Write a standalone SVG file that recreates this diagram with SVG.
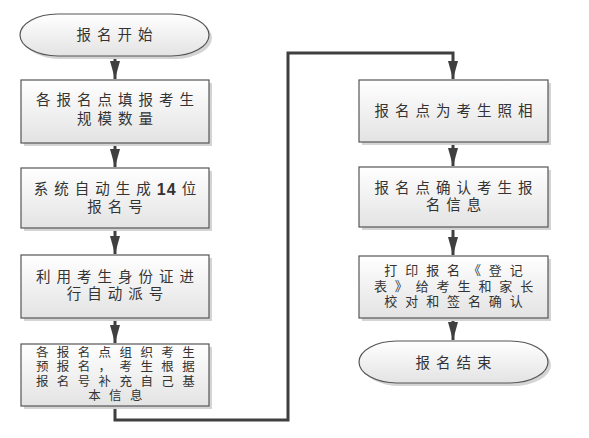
<svg xmlns="http://www.w3.org/2000/svg" width="589" height="438" viewBox="0 0 589 438">
<style>
.box{fill:url(#g);stroke:#555;stroke-width:1.2}
.sh{fill:#d4d4d4}
.t{font-family:"Liberation Sans","Noto Sans CJK SC",sans-serif;font-size:14.5px;fill:#333;text-anchor:middle;dominant-baseline:central;letter-spacing:6px}
.m{font-size:13px;letter-spacing:7.9px}
.s{font-size:12.5px;letter-spacing:8.4px}
.c{fill:none;stroke:#3f3f3f;stroke-width:3}
</style>
<defs>
<linearGradient id="g" x1="0" y1="0" x2="0" y2="1">
<stop offset="0" stop-color="#ffffff"/>
<stop offset="1" stop-color="#e3e3e3"/>
</linearGradient>
<marker id="a" viewBox="0 0 18 10" refX="18" refY="5" markerWidth="18" markerHeight="10" markerUnits="userSpaceOnUse" orient="auto">
<path d="M0,0 L18,5 L0,10 Z" fill="#3f3f3f"/>
</marker>
</defs>
<g id="connectors">
<line class="c" x1="115" y1="57" x2="115" y2="79" marker-end="url(#a)"/>
<line class="c" x1="115" y1="144" x2="115" y2="167" marker-end="url(#a)"/>
<line class="c" x1="115" y1="229" x2="115" y2="254" marker-end="url(#a)"/>
<line class="c" x1="115" y1="319" x2="115" y2="343" marker-end="url(#a)"/>
<polyline class="c" points="115,407 115,420 288,420 288,53 453,53 453,79" marker-end="url(#a)"/>
<line class="c" x1="453" y1="143" x2="453" y2="166" marker-end="url(#a)"/>
<line class="c" x1="453" y1="228" x2="453" y2="255" marker-end="url(#a)"/>
<line class="c" x1="453" y1="319" x2="453" y2="340" marker-end="url(#a)"/>
</g>
<g id="start">
<rect class="sh" x="23" y="17" width="189" height="42" rx="38" ry="21"/>
<rect class="box" x="20" y="14" width="189" height="42" rx="38" ry="21"/>
<text class="t" x="117.5" y="35">报名开始</text>
</g>
<g id="n1">
<rect class="sh" x="24" y="83" width="188" height="63"/>
<rect class="box" x="21" y="80" width="188" height="63"/>
<text class="t" x="118" y="100">各报名点填报考生</text>
<text class="t" x="118" y="119">规模数量</text>
</g>
<g id="n2">
<rect class="sh" x="24" y="171" width="188" height="60"/>
<rect class="box" x="21" y="168" width="188" height="60"/>
<text class="t" x="118" y="189">系统自动生成<tspan font-weight="bold" font-size="16px" letter-spacing="1px">1</tspan><tspan font-weight="bold" font-size="16px">4</tspan>位</text>
<text class="t" x="118" y="207">报名号</text>
</g>
<g id="n3">
<rect class="sh" x="24" y="258" width="188" height="63"/>
<rect class="box" x="21" y="255" width="188" height="63"/>
<text class="t" x="118" y="277">利用考生身份证进</text>
<text class="t" x="118" y="294">行自动派号</text>
</g>
<g id="n4">
<rect class="sh" x="24" y="347" width="188" height="62"/>
<rect class="box" x="21" y="344" width="188" height="62"/>
<text class="t s" x="119.5" y="352.5">各报名点组织考生</text>
<text class="t s" x="119.5" y="367">预报名，考生根据</text>
<text class="t s" x="119.5" y="381.5">报名号补充自己基</text>
<text class="t s" x="119.5" y="396">本信息</text>
</g>
<g id="n5">
<rect class="sh" x="362" y="83" width="189" height="62"/>
<rect class="box" x="359" y="80" width="189" height="62"/>
<text class="t" x="456.5" y="111">报名点为考生照相</text>
</g>
<g id="n6">
<rect class="sh" x="362" y="170" width="189" height="60"/>
<rect class="box" x="359" y="167" width="189" height="60"/>
<text class="t" x="456.5" y="188">报名点确认考生报</text>
<text class="t" x="456.5" y="205">名信息</text>
</g>
<g id="n7">
<rect class="sh" x="362" y="259" width="189" height="62"/>
<rect class="box" x="359" y="256" width="189" height="62"/>
<text class="t m" x="457.5" y="270.5">打印报名《登记</text>
<text class="t m" x="457.5" y="286">表》给考生和家长</text>
<text class="t m" x="457.5" y="301.5">校对和签名确认</text>
</g>
<g id="end">
<rect class="sh" x="362" y="344" width="189" height="42" rx="38" ry="21"/>
<rect class="box" x="359" y="341" width="189" height="42" rx="38" ry="21"/>
<text class="t" x="456.5" y="363">报名结束</text>
</g>
</svg>
